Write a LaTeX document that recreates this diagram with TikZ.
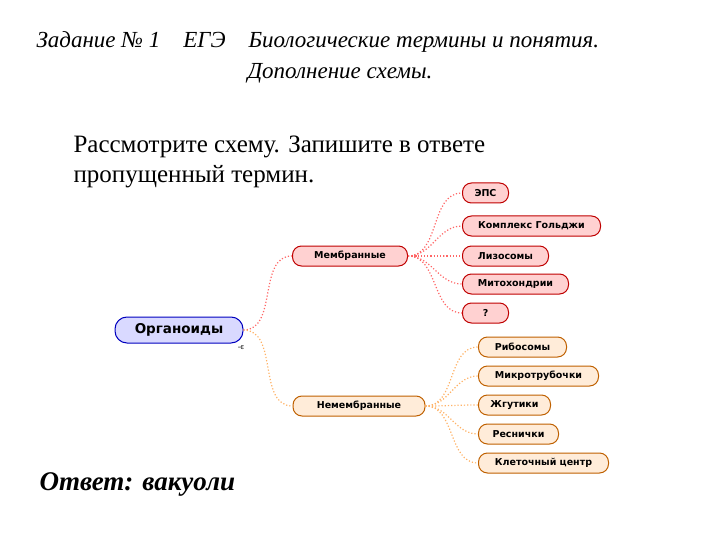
\documentclass[tikz,border=0pt]{standalone}
\usepackage{fontspec}
\setmainfont{Liberation Serif}
\setsansfont{DejaVu Sans}
\begin{document}
\begin{tikzpicture}[x=1pt,y=-1pt,
 pill/.style={rounded corners=9pt,draw=#1!75!black,line width=1pt,font=\sffamily\bfseries\fontsize{9.5}{11}\selectfont,inner xsep=3pt,minimum height=20pt,anchor=west},
 memb/.style={pill=red,fill=red!18},
 nonm/.style={pill=orange,fill=orange!15},
 lr/.style={draw=red!60,dotted,line width=1.2pt},
 lo/.style={draw=orange!60,dotted,line width=1.2pt}]
\useasboundingbox (0,0) rectangle (720,540);
\node[font=\itshape\fontsize{23}{27}\selectfont,anchor=west] (t1) at (33,42) {Задание № 1\quad ЕГЭ\quad Биологические термины и понятия.};
\node[font=\itshape\fontsize{23}{27}\selectfont] (t2) at (340,73) {Дополнение схемы.};
\node[font=\fontsize{25}{30}\selectfont,align=left,anchor=west] (t3) at (70,162) {Рассмотрите схему. Запишите в ответе\\пропущенный термин.};
\node[pill=blue,fill=blue!15,font=\sffamily\bfseries\fontsize{13.5}{16}\selectfont,minimum height=26pt,minimum width=128pt,rounded corners=12pt,anchor=center] (org) at (179,330) {Органоиды};
\node[font=\sffamily\fontsize{7}{8}\selectfont] (e) at (241,348) {-є};
\node[memb,minimum width=115pt,anchor=center] (m) at (350,256) {Мембранные};
\node[nonm,minimum width=132pt,anchor=center] (n) at (359,406) {Немембранные};
\node[memb,minimum width=46pt] (m1) at (462,193) {ЭПС};
\node[memb,minimum width=138pt] (m2) at (462,226) {Комплекс Гольджи};
\node[memb,minimum width=86pt] (m3) at (462,256) {Лизосомы};
\node[memb,minimum width=106pt] (m4) at (462,284) {Митохондрии};
\node[memb,minimum width=46pt] (m5) at (462,313) {?};
\node[nonm,minimum width=88pt] (n1) at (478,347) {Рибосомы};
\node[nonm,minimum width=120pt] (n2) at (478,376) {Микротрубочки};
\node[nonm,minimum width=72pt] (n3) at (478,405) {Жгутики};
\node[nonm,minimum width=80pt] (n4) at (478,434) {Реснички};
\node[nonm,minimum width=130pt] (n5) at (478,463) {Клеточный центр};
\draw[lr] (org.east) to[out=0,in=180] (m.west);
\draw[lo] (org.east) to[out=0,in=180] (n.west);
\foreach \i in {1,...,5}{\draw[lr] (m.east) to[out=0,in=180] (m\i.west);}
\foreach \i in {1,...,5}{\draw[lo] (n.east) to[out=0,in=180] (n\i.west);}
\node[font=\bfseries\itshape\fontsize{27}{30}\selectfont,anchor=west] (ans) at (36,484) {Ответ: вакуоли};
\end{tikzpicture}
\end{document}
